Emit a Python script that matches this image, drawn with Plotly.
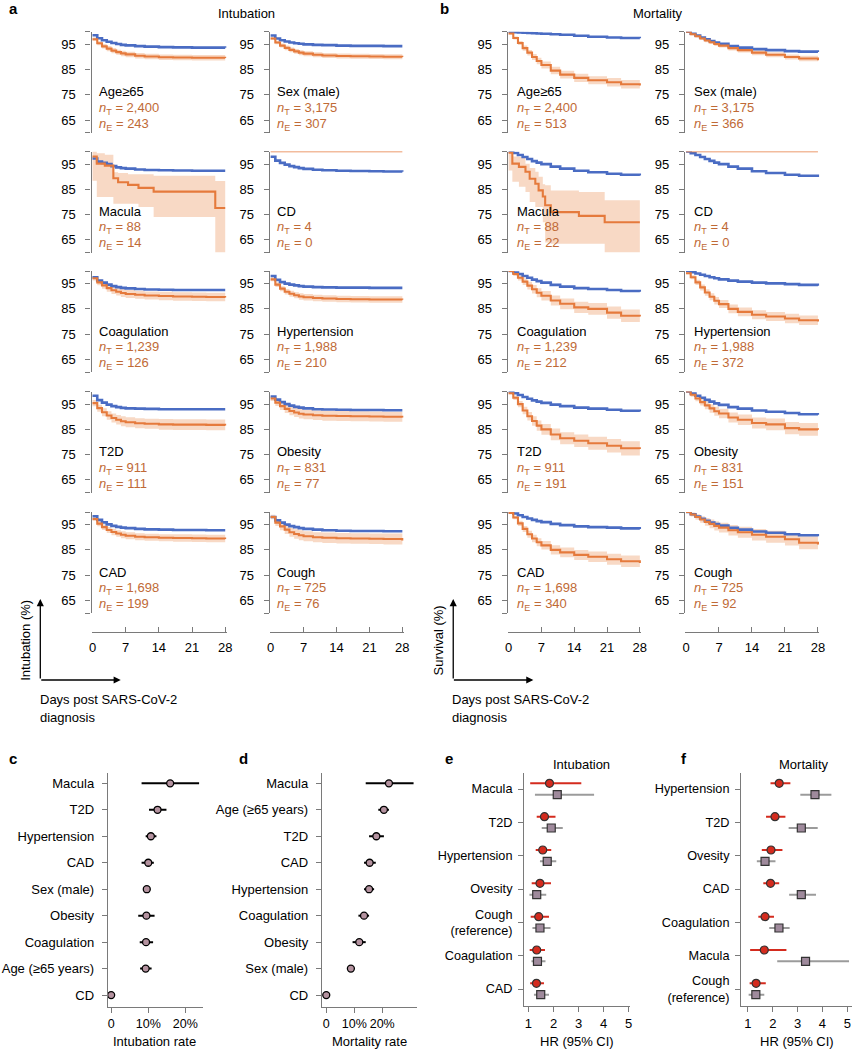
import plotly.graph_objects as go

W, H = 859, 1050

# ---------------- data ----------------
DAYS = [0, 1, 2, 3, 4, 5, 6, 7, 9, 11, 14, 17, 21, 24, 28]
PANEL_NAMES = ["Age≥65", "Sex (male)", "Macula", "CD", "Coagulation",
               "Hypertension", "T2D", "Obesity", "CAD", "Cough"]
N_TOTAL = ["2,400", "3,175", "88", "4", "1,239", "1,988", "911", "831", "1,698", "725"]
N_EVENT_INTUBATION = ["243", "307", "14", "0", "126", "210", "111", "77", "199", "76"]
N_EVENT_MORTALITY = ["513", "366", "22", "0", "212", "372", "191", "151", "340", "92"]

INTUBATION_BLUE = [
    [98.6, 97.4, 96.6, 96.0, 95.5, 95.1, 94.8, 94.6, 94.3, 94.1, 93.9, 93.8, 93.7, 93.7, 93.6],
    [98.5, 97.3, 96.6, 96.1, 95.7, 95.4, 95.2, 95.0, 94.8, 94.7, 94.5, 94.4, 94.4, 94.3, 94.3],
    [97.2, 96.0, 95.5, 95.0, 94.2, 93.7, 93.4, 93.2, 92.9, 92.7, 92.6, 92.5, 92.4, 92.4, 92.4],
    [97.9, 96.4, 95.5, 94.8, 94.2, 93.8, 93.4, 93.1, 92.8, 92.6, 92.4, 92.3, 92.2, 92.1, 92.0],
    [97.5, 96.2, 95.4, 94.6, 94.0, 93.6, 93.3, 93.1, 92.9, 92.7, 92.6, 92.5, 92.5, 92.5, 92.5],
    [98.0, 96.5, 95.6, 95.0, 94.6, 94.3, 94.0, 93.8, 93.6, 93.5, 93.4, 93.4, 93.3, 93.3, 93.3],
    [98.3, 96.6, 95.6, 94.8, 94.2, 93.8, 93.5, 93.3, 93.2, 93.1, 93.0, 93.0, 93.0, 93.0, 93.0],
    [98.0, 96.8, 95.8, 95.0, 94.4, 93.9, 93.6, 93.3, 93.0, 92.9, 92.8, 92.7, 92.7, 92.6, 92.6],
    [98.3, 96.9, 95.9, 95.1, 94.5, 94.1, 93.8, 93.6, 93.3, 93.1, 93.0, 92.9, 92.9, 92.8, 92.8],
    [98.0, 96.7, 95.8, 95.0, 94.4, 94.0, 93.6, 93.3, 93.0, 92.8, 92.6, 92.5, 92.5, 92.4, 92.4],
]
INTUBATION_ORANGE = [
    [97.0, 95.4, 94.2, 93.3, 92.5, 91.9, 91.4, 91.0, 90.5, 90.2, 89.9, 89.8, 89.7, 89.7, 89.6],
    [97.3, 95.7, 94.5, 93.6, 92.8, 92.2, 91.7, 91.3, 90.9, 90.6, 90.4, 90.3, 90.2, 90.1, 90.0],
    None,
    [100, 100, 100, 100, 100, 100, 100, 100, 100, 100, 100, 100, 100, 100, 100],
    [97.1, 95.5, 94.3, 93.2, 92.4, 91.8, 91.3, 90.9, 90.6, 90.3, 90.1, 89.9, 89.8, 89.7, 89.5],
    [96.7, 94.6, 93.0, 91.8, 91.0, 90.4, 89.9, 89.6, 89.3, 89.1, 88.9, 88.8, 88.7, 88.7, 88.6],
    [95.4, 93.4, 91.8, 90.5, 89.5, 88.8, 88.2, 87.8, 87.4, 87.2, 87.0, 86.9, 86.9, 86.8, 86.5],
    [97.2, 95.6, 94.2, 93.1, 92.3, 91.7, 91.2, 90.9, 90.6, 90.4, 90.3, 90.2, 90.1, 90.0, 89.7],
    [97.2, 95.4, 94.0, 92.9, 92.1, 91.5, 91.0, 90.6, 90.2, 90.0, 89.8, 89.7, 89.6, 89.5, 89.3],
    [98.0, 95.8, 94.3, 93.0, 92.0, 91.3, 90.8, 90.4, 90.0, 89.8, 89.6, 89.5, 89.4, 89.3, 88.7],
]
INTUBATION_ORANGE_CI_HALF = [
    [0.7, 0.8, 0.9, 1.0, 1.0, 1.0, 1.1, 1.1, 1.1, 1.1, 1.1, 1.1, 1.1, 1.1, 1.1],
    [0.6, 0.7, 0.8, 0.9, 0.9, 0.9, 1.0, 1.0, 1.0, 1.0, 1.0, 1.0, 1.0, 1.0, 1.0],
    None,
    None,
    [0.9, 1.1, 1.3, 1.4, 1.5, 1.5, 1.6, 1.6, 1.6, 1.6, 1.7, 1.7, 1.7, 1.7, 1.8],
    [0.8, 0.9, 1.0, 1.1, 1.2, 1.2, 1.3, 1.3, 1.3, 1.3, 1.3, 1.3, 1.3, 1.3, 1.4],
    [1.2, 1.4, 1.6, 1.7, 1.8, 1.9, 2.0, 2.0, 2.0, 2.0, 2.1, 2.1, 2.1, 2.1, 2.2],
    [1.0, 1.3, 1.5, 1.6, 1.7, 1.8, 1.9, 1.9, 1.9, 2.0, 2.0, 2.0, 2.0, 2.0, 2.1],
    [0.8, 1.0, 1.1, 1.2, 1.3, 1.3, 1.4, 1.4, 1.4, 1.4, 1.4, 1.5, 1.5, 1.5, 1.5],
    [0.9, 1.3, 1.5, 1.7, 1.8, 1.9, 2.0, 2.0, 2.0, 2.1, 2.1, 2.1, 2.1, 2.2, 2.2],
]
MACULA_INT_DAYS = [0, 0.9, 2.6, 4.4, 5.4, 7.5, 9.7, 12.9, 25.9, 28]
MACULA_INT_ORANGE = [98.0, 95.2, 94.4, 89.4, 87.8, 86.8, 85.6, 84.1, 77.6, 77.6]
MACULA_INT_LO = [88.4, 82.0, 82.0, 79.3, 79.3, 79.3, 78.0, 74.1, 60.0, 60.0]
MACULA_INT_HI = [100, 99.3, 98.7, 91.8, 91.5, 91.0, 91.0, 90.4, 88.3, 88.3]

MORTALITY_BLUE = [
    [100, 99.8, 99.7, 99.6, 99.5, 99.4, 99.3, 99.2, 99.0, 98.8, 98.4, 98.0, 97.7, 97.5, 97.4],
    [100, 99.2, 98.5, 97.7, 97.0, 96.3, 95.7, 95.2, 94.3, 93.7, 93.1, 92.7, 92.3, 92.1, 92.0],
    [100, 99.4, 98.6, 97.8, 97.0, 96.2, 95.6, 95.0, 94.0, 93.2, 92.4, 91.8, 91.2, 90.8, 90.5],
    [100, 99.3, 98.6, 97.8, 97.0, 96.3, 95.6, 95.0, 94.0, 93.2, 92.2, 91.5, 90.8, 90.4, 89.9],
    [100, 99.4, 98.8, 98.0, 97.3, 96.6, 96.0, 95.4, 94.5, 93.8, 93.2, 92.9, 92.5, 92.1, 91.8],
    [100, 99.5, 99.0, 98.5, 98.0, 97.5, 97.1, 96.7, 96.2, 95.8, 95.4, 95.1, 94.8, 94.5, 94.2],
    [100, 99.3, 98.6, 97.8, 97.1, 96.5, 96.0, 95.5, 94.8, 94.2, 93.6, 93.2, 92.8, 92.4, 92.1],
    [100, 99.2, 98.3, 97.5, 96.7, 96.0, 95.3, 94.7, 93.8, 93.2, 92.5, 92.0, 91.5, 91.0, 90.8],
    [100, 99.4, 98.7, 98.0, 97.4, 96.9, 96.4, 96.0, 95.3, 94.8, 94.3, 94.0, 93.8, 93.5, 93.3],
    [100, 99.1, 98.2, 97.3, 96.5, 95.8, 95.2, 94.6, 93.7, 93.0, 92.3, 91.8, 91.2, 90.8, 90.4],
]
MORTALITY_ORANGE = [
    [99.3, 97.5, 95.5, 93.5, 91.7, 90.0, 88.4, 86.8, 84.6, 83.0, 81.7, 80.8, 80.0, 79.2, 78.7],
    [100, 99.0, 98.2, 97.3, 96.5, 95.8, 95.1, 94.5, 93.5, 92.7, 91.7, 90.9, 90.0, 89.4, 88.7],
    None,
    [100, 100, 100, 100, 100, 100, 100, 100, 100, 100, 100, 100, 100, 100, 100],
    [100, 98.8, 97.3, 95.8, 94.2, 92.8, 91.4, 90.2, 88.3, 87.0, 85.6, 85.0, 83.5, 82.3, 82.0],
    [99.1, 97.5, 95.5, 93.5, 91.5, 89.8, 88.2, 86.9, 85.0, 83.8, 82.7, 82.0, 81.2, 80.5, 80.0],
    [99.3, 97.5, 95.0, 92.5, 90.2, 88.3, 86.5, 85.0, 83.0, 81.5, 80.5, 79.5, 78.5, 77.5, 77.2],
    [100, 98.7, 97.2, 95.8, 94.5, 93.3, 92.2, 91.3, 89.7, 88.8, 87.5, 87.0, 85.5, 85.0, 84.9],
    [99.6, 97.8, 95.5, 93.3, 91.2, 89.5, 88.0, 86.8, 85.0, 84.0, 83.0, 82.3, 81.3, 80.5, 79.8],
    [100, 99.0, 98.0, 97.0, 96.1, 95.3, 94.5, 93.8, 92.8, 92.0, 91.0, 90.2, 89.2, 87.8, 87.1],
]
MORTALITY_ORANGE_CI_HALF = [
    [0.4, 0.6, 0.8, 1.0, 1.1, 1.2, 1.3, 1.4, 1.5, 1.5, 1.6, 1.6, 1.7, 1.7, 1.8],
    [0.2, 0.4, 0.5, 0.6, 0.7, 0.7, 0.8, 0.8, 0.9, 0.9, 1.0, 1.0, 1.0, 1.1, 1.1],
    None,
    None,
    [0.3, 0.8, 1.1, 1.3, 1.5, 1.7, 1.8, 1.9, 2.0, 2.1, 2.2, 2.3, 2.4, 2.5, 2.6],
    [0.4, 0.8, 1.0, 1.2, 1.3, 1.4, 1.5, 1.6, 1.7, 1.7, 1.8, 1.8, 1.9, 1.9, 2.0],
    [0.4, 0.9, 1.2, 1.5, 1.7, 1.9, 2.0, 2.1, 2.3, 2.4, 2.5, 2.6, 2.7, 2.8, 2.9],
    [0.3, 0.8, 1.1, 1.3, 1.5, 1.7, 1.8, 1.9, 2.0, 2.1, 2.2, 2.3, 2.4, 2.5, 2.6],
    [0.3, 0.7, 1.0, 1.2, 1.4, 1.5, 1.6, 1.7, 1.8, 1.9, 2.0, 2.1, 2.2, 2.3, 2.4],
    [0.3, 0.8, 1.1, 1.3, 1.5, 1.7, 1.8, 1.9, 2.1, 2.2, 2.3, 2.4, 2.5, 2.6, 2.7],
]
MACULA_MORT_DAYS = [0, 0.8, 2.2, 3.6, 4.5, 5.7, 6.4, 7.3, 7.8, 9.0, 15.0, 20.5, 28]
MACULA_MORT_ORANGE = [99.5, 95.2, 93.9, 92.0, 89.2, 87.2, 84.6, 82.2, 78.7, 76.0, 74.5, 72.0, 72.0]
MACULA_MORT_LO = [92.5, 88.0, 86.0, 84.0, 80.0, 78.0, 78.0, 72.0, 64.0, 63.5, 63.5, 60.0, 60.0]
MACULA_MORT_HI = [100, 98.0, 97.8, 95.1, 93.5, 92.0, 90.0, 87.0, 86.6, 84.6, 84.0, 80.7, 80.7]

KM_Y_TICKS = [65, 75, 85, 95]
KM_Y_ENDS = [60, 100]
KM_X_TICKS = [0, 7, 14, 21, 28]

C_LABELS = ["Macula", "T2D", "Hypertension", "CAD", "Sex (male)", "Obesity",
            "Coagulation", "Age (≥65 years)", "CD"]
C_RATE = [15.9, 12.5, 10.7, 10.0, 9.6, 9.5, 9.4, 9.3, 0.0]
C_LO = [8.2, 10.2, 9.3, 8.2, 8.9, 7.3, 7.7, 7.8, 0.0]
C_HI = [23.7, 14.9, 12.2, 11.5, 10.5, 11.7, 11.3, 10.9, 0.0]

D_LABELS = ["Macula", "Age (≥65 years)", "T2D", "CAD", "Hypertension",
            "Coagulation", "Obesity", "Sex (male)", "CD"]
D_RATE = [22.4, 20.6, 17.9, 15.5, 15.3, 13.5, 11.8, 8.8, 0.0]
D_LO = [14.1, 18.6, 15.3, 13.5, 13.5, 11.5, 9.4, 8.4, 0.0]
D_HI = [31.2, 22.4, 20.6, 17.7, 17.1, 15.3, 14.1, 9.2, 0.0]
RATE_TICKS = [0, 10, 20]
RATE_TICKTEXT = ["0", "10%", "20%"]

E_LABELS = ["Macula", "T2D", "Hypertension", "Ovesity", "Cough<br>(reference)",
            "Coagulation", "CAD"]
E_RED = [1.84, 1.64, 1.57, 1.46, 1.41, 1.33, 1.32]
E_RED_LO = [1.07, 1.33, 1.29, 1.13, 1.09, 1.05, 1.07]
E_RED_HI = [3.11, 2.08, 1.91, 1.90, 1.82, 1.66, 1.62]
E_GRAY = [2.15, 1.91, 1.75, 1.33, 1.46, 1.36, 1.49]
E_GRAY_LO = [1.26, 1.53, 1.46, 1.04, 1.16, 1.12, 1.22]
E_GRAY_HI = [3.62, 2.37, 2.11, 1.71, 1.88, 1.68, 1.82]

F_LABELS = ["Hypertension", "T2D", "Ovesity", "CAD", "Coagulation", "Macula",
            "Cough<br>(reference)"]
F_RED = [2.26, 2.09, 1.93, 1.91, 1.69, 1.66, 1.33]
F_RED_LO = [1.91, 1.73, 1.56, 1.62, 1.42, 1.09, 1.07]
F_RED_HI = [2.71, 2.51, 2.39, 2.26, 2.05, 2.55, 1.72]
F_GRAY = [3.70, 3.15, 1.69, 3.15, 2.25, 3.32, 1.32]
F_GRAY_LO = [3.11, 2.64, 1.36, 2.66, 1.86, 2.18, 1.03]
F_GRAY_HI = [4.36, 3.81, 2.11, 3.74, 2.68, 5.07, 1.66]
HR_TICKS = [1, 2, 3, 4, 5]

# ---------------- style ----------------
FONT = "Liberation Sans, Arial, Helvetica, sans-serif"
BLUE = "#4a6cc3"
ORANGE = "#e57a3c"
BAND = "#f8d9c5"
NTXT = "#c06a36"
AXIS = "#7a7a7a"
RED = "#d42b1e"
GRAY_FILL = "#9f8a9c"
GRAY_BAR = "#9b9b9b"
RATE_FILL = "#b4929f"

fig = go.Figure()
axes = {}
annotations = []
counter = [0]


def new_axes(xdom, ydom, xcfg, ycfg):
    counter[0] += 1
    k = counter[0]
    s = "" if k == 1 else str(k)
    xa = dict(domain=[xdom[0] / W, xdom[1] / W], anchor="y" + s, tickangle=0)
    xa.update(xcfg)
    ya = dict(domain=[1 - ydom[1] / H, 1 - ydom[0] / H], anchor="x" + s, tickangle=0)
    ya.update(ycfg)
    axes["xaxis" + s] = xa
    axes["yaxis" + s] = ya
    return "x" + s, "y" + s


def text(x, y, t, size=13, color="black", xanchor="left", yanchor="middle", angle=0, bold=False):
    if bold:
        t = "<b>" + t + "</b>"
    annotations.append(dict(x=x / W, y=1 - y / H, xref="paper", yref="paper", text=t,
                            showarrow=False, xanchor=xanchor, yanchor=yanchor,
                            textangle=angle, font=dict(size=size, color=color, family=FONT)))


def arrow(x_head, y_head, ax, ay):
    annotations.append(dict(x=x_head / W, y=1 - y_head / H, xref="paper", yref="paper",
                            ax=ax, ay=ay, axref="pixel", ayref="pixel", text="",
                            showarrow=True, arrowhead=2, arrowsize=1.1, arrowwidth=1.3,
                            arrowcolor="black", standoff=0, startstandoff=0))


# ---------------- KM panels ----------------
COL_X = {"a": [(89.5, 226.0), (269.5, 405.0)], "b": [(510.0, 645.0), (689.3, 825.0)]}
LABEL_X = {"a": [95, 275], "b": [517, 696]}
ROW_TOP = [31.7, 151.5, 271.0, 391.5, 512.0]
ROW_H = 101.0
KM_XR = [-0.2, 28.3]


def km_section(sec, blues, oranges, halves, mac_days, mac_v, mac_lo, mac_hi, n_events):
    for i in range(10):
        row, col = divmod(i, 2)
        xdom = COL_X[sec][col]
        ydom = (ROW_TOP[row], ROW_TOP[row] + ROW_H)
        xcfg = dict(range=KM_XR, showgrid=False, zeroline=False, visible=False,
                    showticklabels=False, ticks="", tickvals=[])
        if row == 4:
            xcfg = dict(range=KM_XR, showgrid=False, zeroline=False, visible=True,
                        showline=True, linecolor=AXIS, linewidth=1.3,
                        ticks="inside", ticklen=5, tickcolor=AXIS, tickwidth=1.3,
                        tickvals=KM_X_TICKS, anchor="free", position=1 - 632 / H,
                        tickfont=dict(size=13, family=FONT, color="black"),
                        ticklabelstandoff=3)
        ycfg = dict(range=[60, 100], showgrid=False, zeroline=False, showline=True,
                    linecolor=AXIS, linewidth=1.3, ticks="outside", ticklen=5,
                    tickcolor=AXIS, tickwidth=1.3, tickvals=KM_Y_TICKS,
                    ticklabelstandoff=7,
                    minor=dict(tickvals=KM_Y_ENDS, ticks="outside", ticklen=5,
                               tickcolor=AXIS, tickwidth=1.3, showgrid=False),
                    tickfont=dict(size=13, family=FONT, color="black"))
        xr, yr = new_axes(xdom, ydom, xcfg, ycfg)

        if PANEL_NAMES[i] == "Macula":
            od, ov, lo, hi = mac_days, mac_v, mac_lo, mac_hi
        else:
            od, ov = DAYS, oranges[i]
            hw = halves[i]
            if hw is None:
                lo = hi = None
            else:
                lo = [v - h for v, h in zip(ov, hw)]
                hi = [min(100, v + h) for v, h in zip(ov, hw)]
        if lo is not None:
            fig.add_trace(go.Scatter(x=od, y=lo, xaxis=xr, yaxis=yr, mode="lines",
                                     line=dict(width=0, shape="hv", color=BAND),
                                     hoverinfo="skip", showlegend=False))
            fig.add_trace(go.Scatter(x=od, y=hi, xaxis=xr, yaxis=yr, mode="lines",
                                     line=dict(width=0, shape="hv", color=BAND),
                                     fill="tonexty", fillcolor=BAND,
                                     hoverinfo="skip", showlegend=False))
        fig.add_trace(go.Scatter(x=DAYS, y=blues[i], xaxis=xr, yaxis=yr, mode="lines",
                                 line=dict(width=2.6, shape="hv", color=BLUE),
                                 showlegend=False))
        ow = 1.5 if PANEL_NAMES[i] == "CD" else 2.1
        fig.add_trace(go.Scatter(x=od, y=ov, xaxis=xr, yaxis=yr, mode="lines",
                                 line=dict(width=ow, shape="hv", color=ORANGE),
                                 showlegend=False))
        lx = LABEL_X[sec][col]
        top = ROW_TOP[row]
        text(lx, top + 60, PANEL_NAMES[i])
        text(lx, top + 76.5, "<i>n</i><sub>T</sub> = " + N_TOTAL[i], color=NTXT)
        text(lx, top + 92.5, "<i>n</i><sub>E</sub> = " + n_events[i], color=NTXT)


km_section("a", INTUBATION_BLUE, INTUBATION_ORANGE, INTUBATION_ORANGE_CI_HALF,
           MACULA_INT_DAYS, MACULA_INT_ORANGE, MACULA_INT_LO, MACULA_INT_HI,
           N_EVENT_INTUBATION)
km_section("b", MORTALITY_BLUE, MORTALITY_ORANGE, MORTALITY_ORANGE_CI_HALF,
           MACULA_MORT_DAYS, MACULA_MORT_ORANGE, MACULA_MORT_LO, MACULA_MORT_HI,
           N_EVENT_MORTALITY)

# panel headers
text(4, 9, "a", size=15, bold=True)
text(440, 9, "b", size=15, bold=True)
text(246, 14, "Intubation", xanchor="center")
text(662, 14, "Mortality", xanchor="center")

# axis arrows
arrow(37.7, 599, 0, 81)
arrow(119, 680, -81, 0)
text(22, 640, "Intubation (%)", xanchor="center", angle=-90)
text(35, 699, "Days post SARS-CoV-2")
text(35, 717, "diagnosis")

arrow(455, 599, 0, 81)
arrow(536, 680, -81, 0)
text(440, 640, "Survival (%)", xanchor="center", angle=-90)
text(452, 699, "Days post SARS-CoV-2")
text(452, 717, "diagnosis")

# ---------------- rate panels (c, d) ----------------


def rate_panel(labels, rate, lo, hi, xdom, xrange):
    n = len(labels)
    yv = [-i for i in range(n)]
    xcfg = dict(range=xrange, showgrid=False, zeroline=False, showline=True,
                linecolor=AXIS, linewidth=1.3, ticks="outside", ticklen=5,
                tickcolor=AXIS, tickwidth=1.3, tickvals=RATE_TICKS, ticktext=RATE_TICKTEXT,
                tickfont=dict(size=12.5, family=FONT, color="black"))
    ycfg = dict(range=[-8.45, 0.39], showgrid=False, zeroline=False, showline=True,
                linecolor=AXIS, linewidth=1.3, ticks="outside", ticklen=5,
                tickcolor=AXIS, tickwidth=1.3, tickvals=yv, ticktext=labels,
                ticklabelstandoff=5, tickfont=dict(size=13, family=FONT, color="black"))
    xr, yr = new_axes(xdom, (773, 1007), xcfg, ycfg)
    fig.add_trace(go.Scatter(
        x=rate, y=yv, xaxis=xr, yaxis=yr, mode="markers",
        marker=dict(symbol="circle", size=7, color=RATE_FILL, line=dict(color="black", width=1.3)),
        error_x=dict(type="data", symmetric=False,
                     array=[h - r for h, r in zip(hi, rate)],
                     arrayminus=[r - l for r, l in zip(rate, lo)],
                     color="black", thickness=2, width=0),
        showlegend=False))
    return xr


rate_panel(C_LABELS, C_RATE, C_LO, C_HI, (106, 201.7), [-0.88, 24.64])
rate_panel(D_LABELS, D_RATE, D_LO, D_HI, (322.3, 418.3), [-1.55, 32.4])
text(153, 1041, "Intubation rate", xanchor="center")
text(370, 1041, "Mortality rate", xanchor="center")
text(4, 758, "c", size=15, bold=True)
text(236, 758, "d", size=15, bold=True)

# ---------------- HR panels (e, f) ----------------


def hr_panel(labels, red, rlo, rhi, gray, glo, ghi, xdom, xrange):
    n = len(labels)
    yv = [-i for i in range(n)]
    xcfg = dict(range=xrange, showgrid=False, zeroline=False, showline=True,
                linecolor=AXIS, linewidth=1.3, ticks="outside", ticklen=5,
                tickcolor=AXIS, tickwidth=1.3, tickvals=HR_TICKS,
                tickfont=dict(size=13, family=FONT, color="black"))
    ycfg = dict(range=[-6.51, 0.48], showgrid=False, zeroline=False, showline=True,
                linecolor=AXIS, linewidth=1.3, ticks="outside", ticklen=5,
                tickcolor=AXIS, tickwidth=1.3, tickvals=yv, ticktext=labels,
                ticklabelstandoff=3, tickfont=dict(size=12.7, family=FONT, color="black"))
    xr, yr = new_axes(xdom, (773, 1006), xcfg, ycfg)
    fig.add_trace(go.Scatter(
        x=gray, y=[v - 0.17 for v in yv], xaxis=xr, yaxis=yr, mode="markers",
        marker=dict(symbol="square", size=8, color=GRAY_FILL, line=dict(color="#333333", width=1.2)),
        error_x=dict(type="data", symmetric=False,
                     array=[h - r for h, r in zip(ghi, gray)],
                     arrayminus=[r - l for r, l in zip(gray, glo)],
                     color=GRAY_BAR, thickness=2, width=0),
        showlegend=False))
    fig.add_trace(go.Scatter(
        x=red, y=[v + 0.17 for v in yv], xaxis=xr, yaxis=yr, mode="markers",
        marker=dict(symbol="circle", size=8, color=RED, line=dict(color="#333333", width=1.2)),
        error_x=dict(type="data", symmetric=False,
                     array=[h - r for h, r in zip(rhi, red)],
                     arrayminus=[r - l for r, l in zip(red, rlo)],
                     color=RED, thickness=2, width=0),
        showlegend=False))


hr_panel(E_LABELS, E_RED, E_RED_LO, E_RED_HI, E_GRAY, E_GRAY_LO, E_GRAY_HI,
         (526.7, 633.3), [0.83, 5.04])
hr_panel(F_LABELS, F_RED, F_RED_LO, F_RED_HI, F_GRAY, F_GRAY_LO, F_GRAY_HI,
         (746.0, 858.0), [0.73, 5.19])
text(580, 1041, "HR (95% CI)", xanchor="center")
text(802, 1041, "HR (95% CI)", xanchor="center")
text(445, 758, "e", size=15, bold=True)
text(683, 758, "f", size=15, bold=True)
text(585, 764, "Intubation", xanchor="center")
text(809, 764, "Mortality", xanchor="center")

fig.update_layout(
    width=W, height=H, margin=dict(l=0, r=0, t=0, b=0),
    paper_bgcolor="white", plot_bgcolor="white",
    font=dict(family=FONT, size=13, color="black"),
    annotations=annotations, showlegend=False, hovermode=False,
    **axes,
)
fig.write_html("out.html", config={"displayModeBar": False},
               post_script="document.body.style.margin='0px';document.body.style.padding='0px';")
